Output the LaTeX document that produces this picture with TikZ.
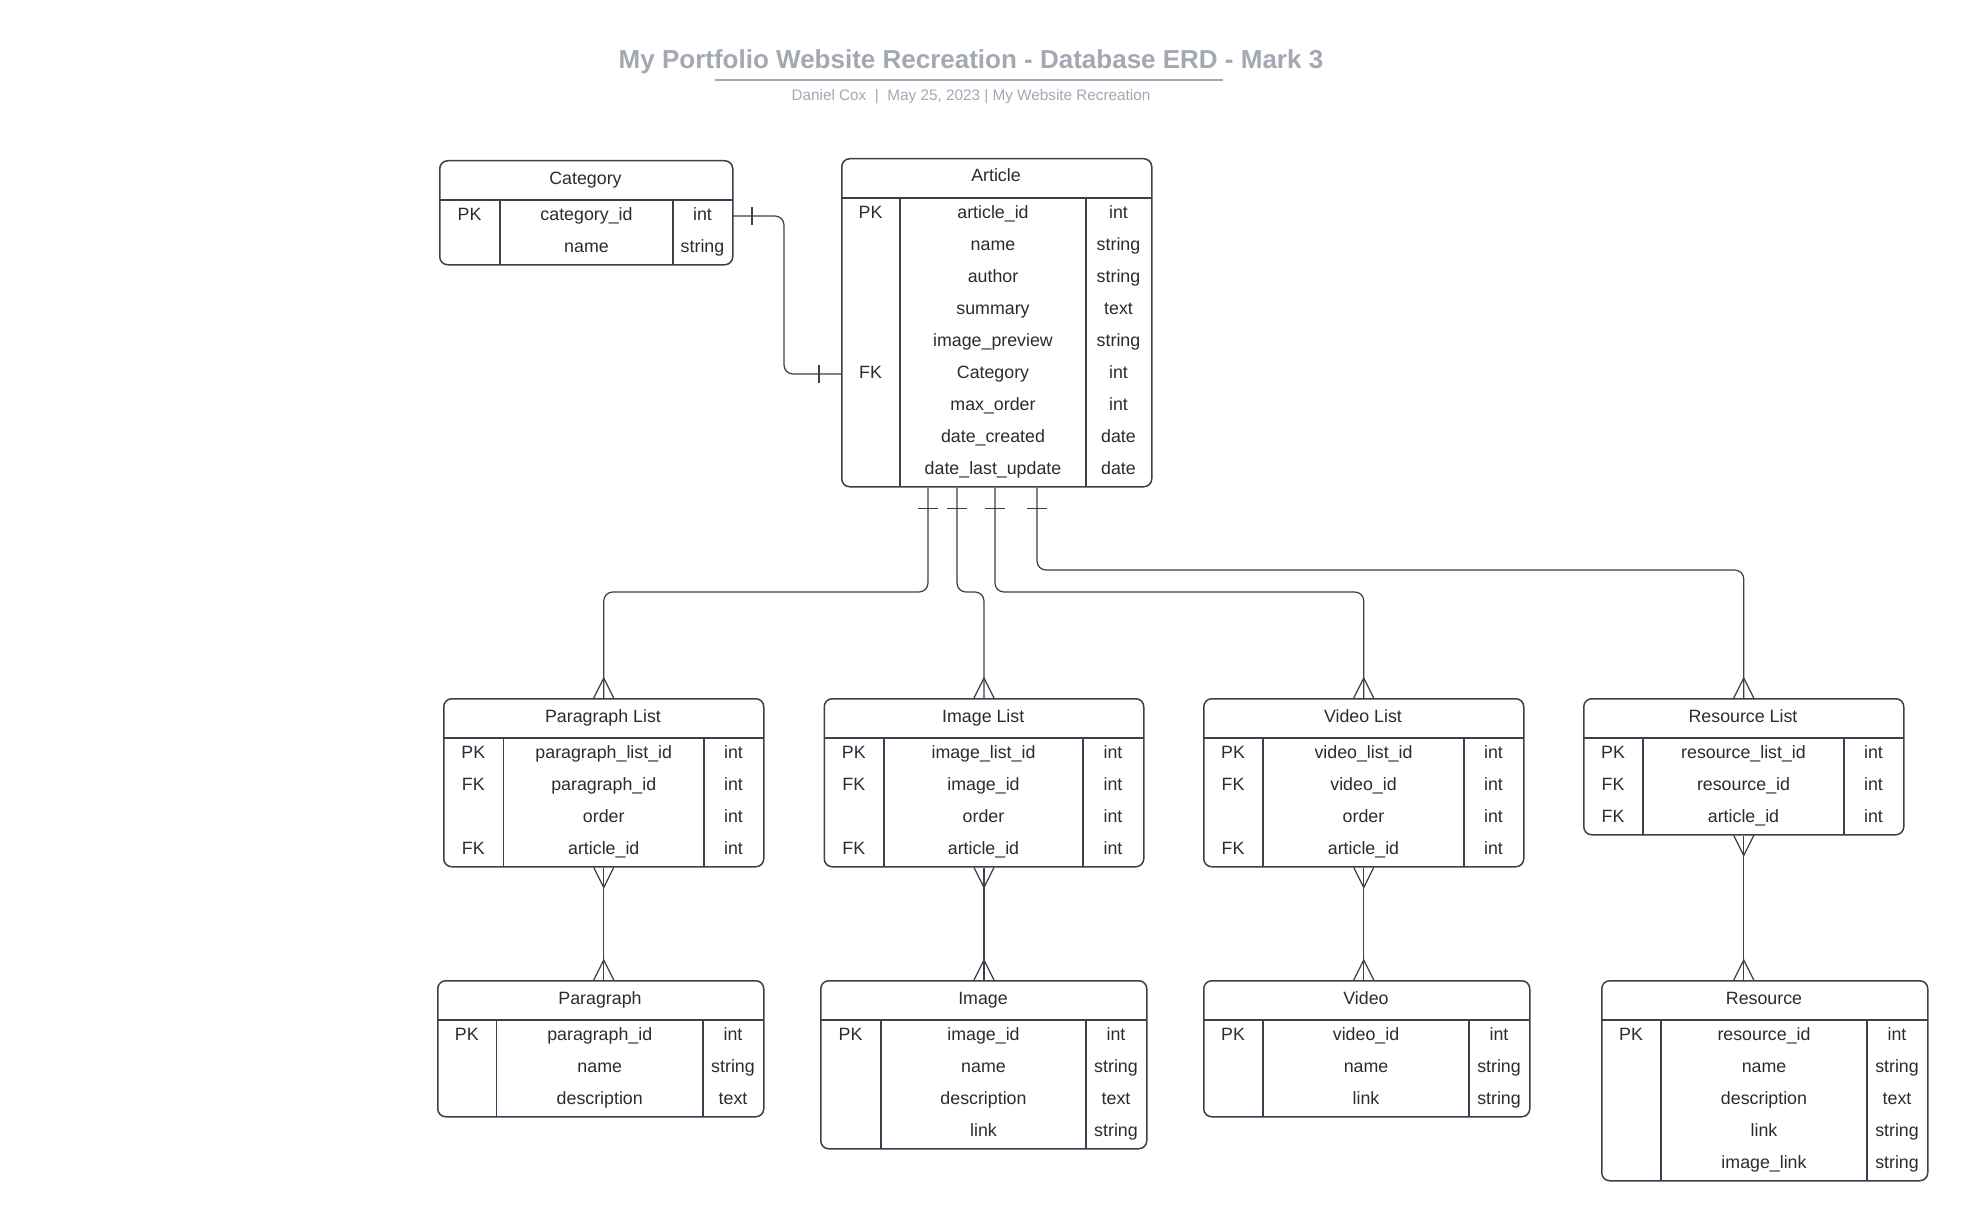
\documentclass[tikz,border=0pt]{standalone}
\usepackage{fontspec}
\setmainfont{Liberation Sans}
\definecolor{txtc}{HTML}{282C33}
\definecolor{linec}{HTML}{3A414A}
\definecolor{titlec}{HTML}{A3A8B2}
\tikzset{
  tbox/.style={draw=linec, line width=1.5pt, rounded corners=8pt, inner sep=0pt, fill=white},
  tline/.style={draw=linec, line width=1.3pt},
  cell/.style={font=\fontsize{17.8}{21}\selectfont, text=txtc, anchor=base, inner sep=0pt},
  conn/.style={draw=linec, line width=1.25pt, rounded corners=9pt},
  tickline/.style={draw=linec, line width=1.25pt},
}
% #1 name, #2 left, #3 col1, #4 col2, #5 right, #6 top, #7 title, #8 rows
\newcommand\erdtab[8]{%
  \foreach \k/\f/\t [count=\i] in {#8} {\xdef\erdn{\i}}%
  \pgfmathsetmacro\erdw{#5-#2}%
  \pgfmathsetmacro\erdh{40+32*\erdn}%
  \node[tbox, minimum width=\erdw pt, minimum height=\erdh pt, anchor=north west] (#1) at (#2,#6) {};
  \draw[tline] (#2,#6+40) -- (#5,#6+40);
  \draw[tline] (#3,#6+40) -- (#3,#6+\erdh);
  \draw[tline] (#4,#6+40) -- (#4,#6+\erdh);
  \node[cell] (#1-h) at ({(#2+#5)/2},#6+24) {#7};
  \foreach \k/\f/\t [count=\i] in {#8} {
    \coordinate (#1-r\i) at (#2,{#6+56+32*(\i-1)});
    \coordinate (#1-R\i) at (#5,{#6+56+32*(\i-1)});
    \node[cell] (#1-k\i) at ({(#2+#3)/2},{#6+60+32*(\i-1)}) {\k};
    \node[cell] (#1-f\i) at ({(#3+#4)/2},{#6+60+32*(\i-1)}) {\f};
    \node[cell] (#1-t\i) at ({(#4+#5)/2},{#6+60+32*(\i-1)}) {\t};
  }%
}
% crow's foot: many end touching node at top / bottom
\newcommand\crowtop[1]{\draw[tickline] ([xshift=-10pt]#1) -- ([yshift=20pt]#1) -- ([xshift=10pt]#1);}
\newcommand\crowbot[1]{\draw[tickline] ([xshift=-10pt]#1) -- ([yshift=-20pt]#1) -- ([xshift=10pt]#1);}
\begin{document}
\begin{tikzpicture}[x=1pt, y=-1pt]
\useasboundingbox[fill=white] (0,0) rectangle (1968,1220);

% Title
\node[font=\fontsize{26}{30}\selectfont\bfseries, text=titlec, anchor=base, inner sep=0pt] (title) at (971,69) {My Portfolio Website Recreation - Database ERD - Mark 3};
\coordinate (ulL) at (715,80);
\coordinate (ulR) at (1223,80);
\draw[titlec, line width=2.4pt] (ulL) -- (ulR);
\node[font=\fontsize{15.3}{18}\selectfont, text=titlec, anchor=base, inner sep=0pt] (subtitle) at (971,101) {Daniel Cox\ \ |\ \ May 25, 2023 | My Website Recreation};

% Tables
\erdtab{cat}{439}{500}{673}{732}{160}{Category}{PK/category\_id/int, /name/string}
\erdtab{art}{841}{900}{1086}{1151}{158}{Article}{PK/article\_id/int, /name/string, /author/string, /summary/text, /image\_preview/string, FK/Category/int, /max\_order/int, /date\_created/date, /date\_last\_update/date}
\erdtab{pl}{443}{503.5}{704}{763}{698}{Paragraph List}{PK/paragraph\_list\_id/int, FK/paragraph\_id/int, /order/int, FK/article\_id/int}
\erdtab{il}{823.5}{884}{1083}{1143}{698}{Image List}{PK/image\_list\_id/int, FK/image\_id/int, /order/int, FK/article\_id/int}
\erdtab{vl}{1203}{1263}{1464}{1523}{698}{Video List}{PK/video\_list\_id/int, FK/video\_id/int, /order/int, FK/article\_id/int}
\erdtab{rl}{1583}{1643}{1844}{1903}{698}{Resource List}{PK/resource\_list\_id/int, FK/resource\_id/int, FK/article\_id/int}
\erdtab{par}{437}{496.5}{703}{763}{980}{Paragraph}{PK/paragraph\_id/int, /name/string, /description/text}
\erdtab{img}{820}{881}{1086}{1146}{980}{Image}{PK/image\_id/int, /name/string, /description/text, /link/string}
\erdtab{vid}{1203}{1263}{1469}{1529}{980}{Video}{PK/video\_id/int, /name/string, /link/string}
\erdtab{res}{1601}{1661}{1867}{1927}{980}{Resource}{PK/resource\_id/int, /name/string, /description/text, /link/string, /image\_link/string}

% Category -- Article
\coordinate (cbend) at (784,0);
\draw[conn] (cat-R1) -- (cat-R1 -| cbend) -- (cbend |- art-r6) -- (art-r6);
\draw[tickline] ([xshift=20pt,yshift=-9pt]cat-R1) -- ([xshift=20pt,yshift=9pt]cat-R1);
\draw[tickline] ([xshift=-22pt,yshift=-9pt]art-r6) -- ([xshift=-22pt,yshift=9pt]art-r6);

% Article -- lists
\coordinate (a1) at ([xshift=87pt]art.south west);
\coordinate (a2) at ([xshift=116pt]art.south west);
\coordinate (a3) at ([xshift=154pt]art.south west);
\coordinate (a4) at ([xshift=196pt]art.south west);
\coordinate (h1) at (0,592);
\coordinate (h2) at (0,570);
\draw[conn] (a1) -- (a1 |- h1) -- (pl.north |- h1) -- (pl.north);
\draw[conn] (a2) -- (a2 |- h1) -- (il.north |- h1) -- (il.north);
\draw[conn] (a3) -- (a3 |- h1) -- (vl.north |- h1) -- (vl.north);
\draw[conn] (a4) -- (a4 |- h2) -- (rl.north |- h2) -- (rl.north);
\foreach \a in {a1,a2,a3,a4} {
  \draw[tickline] ([xshift=-10pt,yshift=-21pt]\a) -- ([xshift=10pt,yshift=-21pt]\a);
}
\crowtop{pl.north}
\crowtop{il.north}
\crowtop{vl.north}
\crowtop{rl.north}

% lists -- entities
\draw[conn] (pl.south) -- (pl.south |- par.north);
\draw[conn] (il.south) -- (il.south |- img.north);
\draw[conn] (vl.south) -- (vl.south |- vid.north);
\draw[conn] (rl.south) -- (rl.south |- res.north);
\crowbot{pl.south}
\crowbot{il.south}
\crowbot{vl.south}
\crowbot{rl.south}
\crowtop{pl.south |- par.north}
\crowtop{il.south |- img.north}
\crowtop{vl.south |- vid.north}
\crowtop{rl.south |- res.north}
\end{tikzpicture}
\end{document}
